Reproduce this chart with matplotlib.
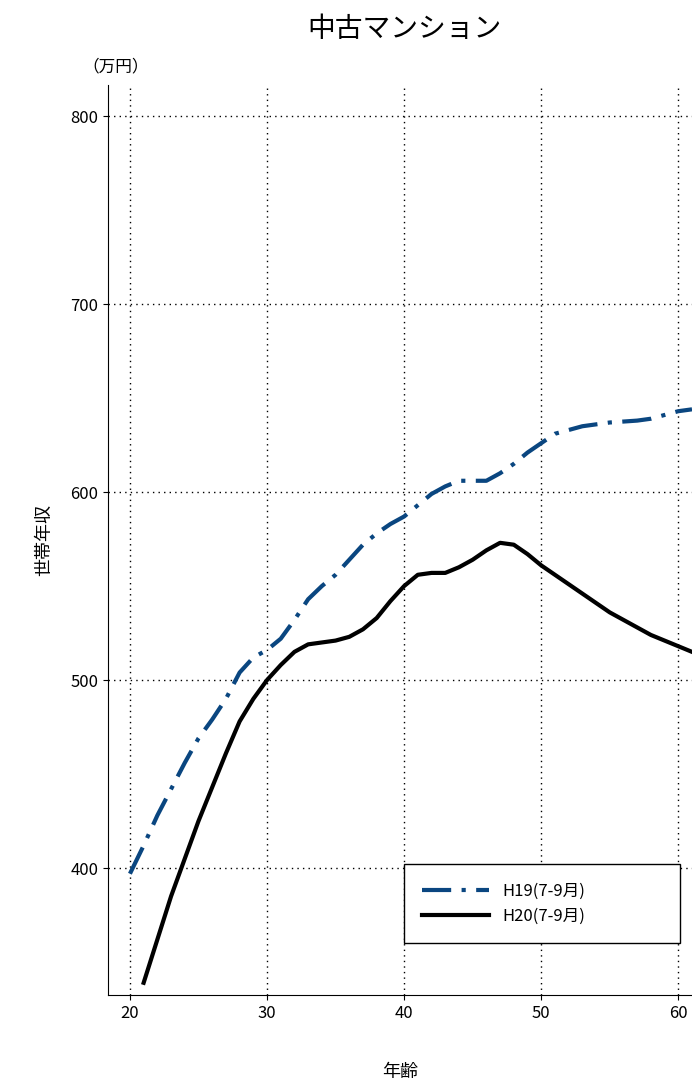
import matplotlib

matplotlib.use("Agg")
import matplotlib.pyplot as plt

plt.rcParams["font.family"] = ["Noto Sans CJK JP", "DejaVu Sans"]

ages_h19 = list(range(20, 62))
h19 = [397, 412, 428, 442, 456, 469, 479, 490, 504, 512, 516, 522, 532, 543, 550, 556,
       564, 572, 578, 583, 587, 593, 599, 603, 606, 606, 606, 610, 615, 621, 626, 631,
       633, 635, 636, 637, 637.5, 638, 639, 641, 643, 644]
ages_h20 = list(range(21, 62))
h20 = [339, 362, 385, 405, 425, 443, 461, 478, 490, 500, 508, 515, 519, 520, 521, 523,
       527, 533, 542, 550, 556, 557, 557, 560, 564, 569, 573, 572, 567, 561, 556, 551,
       546, 541, 536, 532, 528, 524, 521, 518, 515]

fig = plt.figure(figsize=(6.92, 10.91), dpi=100)
ax = fig.add_axes([108 / 692, 96 / 1091, 1 - 108 / 692, 910 / 1091])
ax.plot(ages_h19, h19, color="#0a4680", lw=3, dashes=(7, 2.5, 1, 2.5), label="H19(7-9月)")
ax.plot(ages_h20, h20, color="black", lw=3, label="H20(7-9月)")
ax.set_xlim(18.4, 61.0)
ax.set_ylim(332.5, 816.5)
ax.set_xticks([20, 30, 40, 50, 60])
ax.set_yticks([400, 500, 600, 700, 800])
ax.grid(True, color="black", ls=(0, (1, 3)), lw=1)
for s in ["top", "right"]:
    ax.spines[s].set_visible(False)
ax.tick_params(labelsize=12, direction="out")
ax.set_xlabel("年齢", fontsize=13, labelpad=30)
ax.set_ylabel("世帯年収", fontsize=13, labelpad=12)
ax.text(0.07, 1.015, "（万円）", transform=ax.transAxes, fontsize=12, ha="right")
fig.text(0.585, 0.973, "中古マンション", fontsize=20, ha="center", va="center")
leg = ax.legend(loc="lower left", bbox_to_anchor=(0.507, 0.057, 0.473, 0.082), mode="expand",
                fontsize=12, fancybox=False, edgecolor="black", handlelength=4,
                borderpad=1.1, borderaxespad=0, framealpha=1)
leg.get_frame().set_linewidth(1)
fig.savefig("out.png", dpi=100)
